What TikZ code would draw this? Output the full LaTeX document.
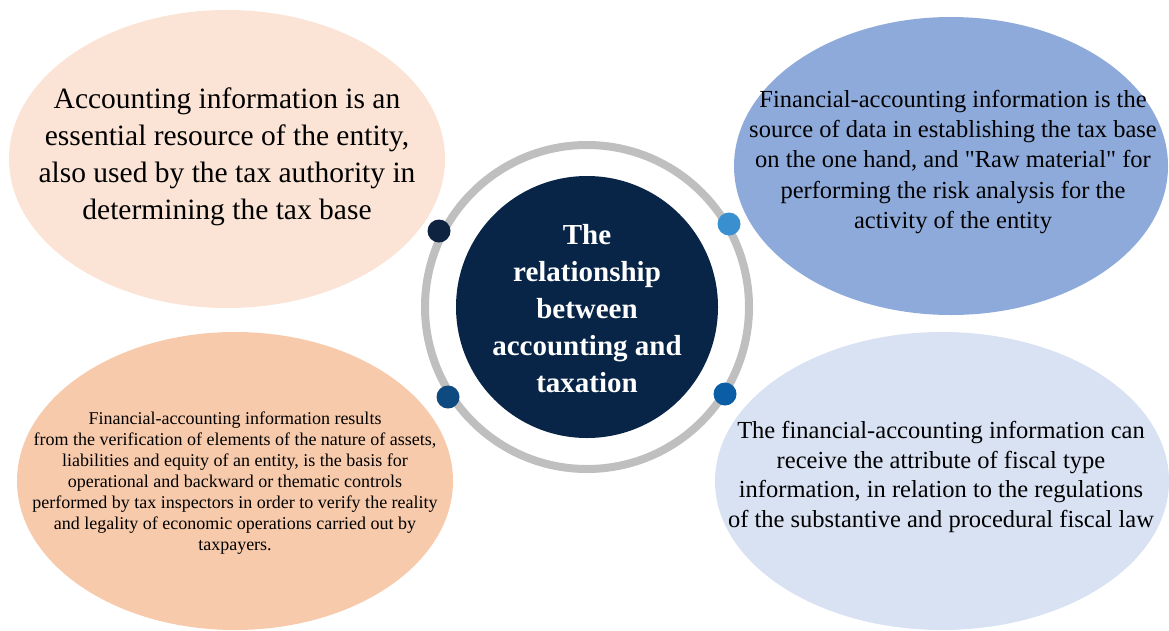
\documentclass[tikz,border=0pt]{standalone}
\usepackage{fontspec}
\setmainfont{Liberation Serif}
\usetikzlibrary{shapes.geometric}
\definecolor{peachlight}{HTML}{FBE4D5}
\definecolor{peach}{HTML}{F7CAAC}
\definecolor{bluemid}{HTML}{8EAADB}
\definecolor{bluelight}{HTML}{D9E2F3}
\definecolor{navy}{HTML}{082548}
\definecolor{ringgray}{HTML}{BFBFBF}
\definecolor{dotA}{HTML}{0D2340}
\definecolor{dotB}{HTML}{3A8FD0}
\definecolor{dotC}{HTML}{0E4A80}
\definecolor{dotD}{HTML}{0B5DA6}
\tikzset{
  blob/.style={ellipse, draw=none, inner sep=0pt},
  blobtext/.style={align=center, text=black, inner sep=0pt},
  dot/.style={circle, fill=#1, draw=none, minimum size=23pt, inner sep=0pt},
}
\begin{document}
\begin{tikzpicture}[x=1pt, y=-1pt]
\useasboundingbox (0,0) rectangle (1169,630);

% four surrounding ellipses
\node[blob, fill=peachlight, minimum width=436pt, minimum height=298pt] (tl) at (227,159) {};
\node[blob, fill=peach, minimum width=436pt, minimum height=298pt] (bl) at (235,481) {};
\node[blob, fill=bluemid, minimum width=434pt, minimum height=298pt] (tr) at (951,166) {};
\node[blob, fill=bluelight, minimum width=454pt, minimum height=298pt] (br) at (942,481) {};

% texts of the ellipses
\node[blobtext, font=\fontsize{29.5}{37}\selectfont] (tltext) at (227,157)
  {Accounting information is an\\essential resource of the entity,\\also used by the tax authority in\\determining the tax base};
\node[blobtext, font=\fontsize{24.5}{30.3}\selectfont] (trtext) at (953,162)
  {Financial-accounting information is the\\source of data in establishing the tax base\\on the one hand, and \textquotedbl Raw material\textquotedbl{} for\\performing the risk analysis for the\\activity of the entity};
\node[blobtext, font=\fontsize{18}{21}\selectfont] (bltext) at (235,483)
  {Financial-accounting information results\\from the verification of elements of the nature of assets,\\liabilities and equity of an entity, is the basis for\\operational and backward or thematic controls\\performed by tax inspectors in order to verify the reality\\and legality of economic operations carried out by\\taxpayers.};
\node[blobtext, font=\fontsize{24.5}{29.5}\selectfont] (brtext) at (941,477)
  {The financial-accounting information can\\receive the attribute of fiscal type\\information, in relation to the regulations\\of the substantive and procedural fiscal law};

% central ring and disc
\node[circle, draw=ringgray, line width=8pt, minimum size=324pt, inner sep=0pt] (ring) at (587,307) {};
\node[circle, fill=navy, minimum size=262pt, inner sep=0pt] (core) at (587,307) {};
\node[align=center, text=white, font=\bfseries\fontsize{29}{37}\selectfont] (coretext) at (587,309)
  {The\\relationship\\between\\accounting and\\taxation};

% dots on the ring
\node[dot=dotA] (dtl) at (439,231) {};
\node[dot=dotB] (dtr) at (729,224) {};
\node[dot=dotC] (dbl) at (448,397) {};
\node[dot=dotD] (dbr) at (725,394) {};
\end{tikzpicture}
\end{document}
